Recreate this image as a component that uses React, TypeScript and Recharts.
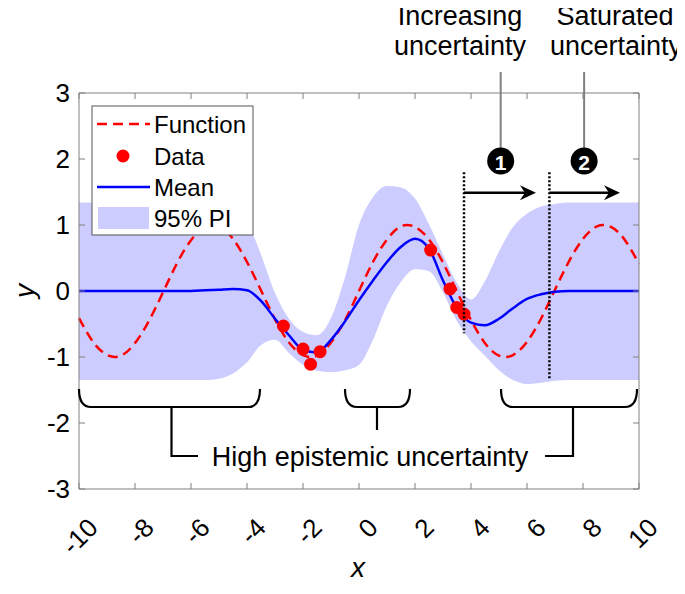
import { ComposedChart, Line, Area, Scatter, XAxis, YAxis } from 'recharts';

// sample grid along x
const xGrid = [
  -10, -9.5, -9, -8.5, -8, -7.5, -7, -6.5, -6, -5.5, -5, -4.5, -4, -3.5, -3, -2.5, -2, -1.5, -1, -0.5,
  0, 0.5, 1, 1.5, 2, 2.5, 3, 3.5, 4, 4.5, 5, 5.5, 6, 6.5, 7, 7.5, 8, 8.5, 9, 9.5, 10,
];

// true function (red dashed)
const functionY = [
  -0.41, -0.77, -0.97, -0.98, -0.79, -0.45, -0.02, 0.42, 0.77, 0.97, 0.98, 0.79, 0.44, 0.01, -0.43, -0.78, -0.97, -0.98, -0.78, -0.44,
  0, 0.44, 0.78, 0.98, 0.97, 0.78, 0.43, -0.01, -0.44, -0.79, -0.98, -0.97, -0.77, -0.42, 0.02, 0.45, 0.79, 0.98, 0.97, 0.77, 0.41,
];

// posterior mean (blue)
const meanY = [
  0, 0, 0, 0, 0, 0, 0, 0, 0, 0.01, 0.02, 0.03, 0.01, -0.15, -0.42, -0.67, -0.89, -0.93, -0.74, -0.46,
  -0.14, 0.16, 0.44, 0.67, 0.79, 0.64, 0.16, -0.26, -0.48, -0.52, -0.42, -0.26, -0.12, -0.05, -0.01, 0, 0, 0, 0, 0, 0,
];

// 95% prediction interval
const piUpper = [
  1.34, 1.34, 1.34, 1.34, 1.34, 1.34, 1.34, 1.34, 1.34, 1.34, 1.32, 1.24, 1.05, 0.55, -0.03, -0.42, -0.62, -0.67, -0.41, 0.21,
  1.0, 1.42, 1.59, 1.57, 1.4, 1.01, 0.55, 0.12, -0.13, 0.15, 0.6, 0.97, 1.17, 1.28, 1.32, 1.34, 1.34, 1.34, 1.34, 1.34, 1.34,
];
const piLower = [
  -1.35, -1.35, -1.35, -1.35, -1.35, -1.35, -1.35, -1.35, -1.35, -1.35, -1.33, -1.25, -1.08, -0.82, -0.74, -0.94, -1.12, -1.21, -1.23, -1.2,
  -1.12, -0.74, -0.22, 0.14, 0.33, 0.3, -0.02, -0.46, -0.76, -0.98, -1.2, -1.35, -1.41, -1.39, -1.36, -1.35, -1.35, -1.35, -1.35, -1.35, -1.35,
];

// observed points
const dataX = [-2.7, -2.0, -1.73, -1.39, 2.56, 3.25, 3.49, 3.75];
const dataY = [-0.53, -0.88, -1.11, -0.92, 0.62, 0.03, -0.25, -0.35];

const xTicks = [-10, -8, -6, -4, -2, 0, 2, 4, 6, 8, 10];
const yTicks = [-3, -2, -1, 0, 1, 2, 3];

const rows = xGrid.map((x, i) => ({ x, f: functionY[i], mean: meanY[i], lo: piLower[i], hi: piUpper[i] }));
const points = dataX.map((x, i) => ({ x, y: dataY[i] }));

const W = 669;
const H = 578;
const PLOT = { left: 71, top: 85, width: 560, height: 396 };
const px = (x: number) => PLOT.left + ((x + 10) / 20) * PLOT.width;
const py = (y: number) => PLOT.top + ((3 - y) / 6) * PLOT.height;

const AXIS = '#808080';
const BAND = '#ccccff';

function XTick({ x, y, payload }: any) {
  return (
    <text
      transform={`translate(${x + 14},${y + 34}) rotate(-45)`}
      textAnchor="end"
      dominantBaseline="central"
      fontSize={26}
      fill="#000"
    >
      {payload.value}
    </text>
  );
}

function Arrow({ x1, x2, y }: { x1: number; x2: number; y: number }) {
  const a = px(x1), b = px(x2), c = py(y);
  return (
    <g>
      <line x1={a} y1={c} x2={b - 8} y2={c} stroke="#000" strokeWidth={2.5} />
      <path d={`M${b},${c} L${b - 16},${c - 7.5} L${b - 11},${c} L${b - 16},${c + 7.5} Z`} fill="#000" />
    </g>
  );
}

function Bracket({ x1, x2, stem, stemTo, turnTo }: { x1: number; x2: number; stem: number; stemTo: number; turnTo?: number }) {
  const top = 381, bot = 399;
  const d = `M${x1},${top} Q${x1},${bot} ${x1 + 12},${bot} L${x2 - 12},${bot} Q${x2},${bot} ${x2},${top}`;
  const s = turnTo !== undefined ? `M${stem},${bot} L${stem},${stemTo} L${turnTo},${stemTo}` : `M${stem},${bot} L${stem},${stemTo}`;
  return (
    <g fill="none" stroke="#000" strokeWidth={2.2}>
      <path d={d} />
      <path d={s} />
    </g>
  );
}

function Overlay() {
  return (
    <svg width={W} height={H} style={{ position: 'absolute', left: 0, top: 0, pointerEvents: 'none', overflow: 'visible' }}>
      {/* box edges (top / right) with inward ticks */}
      <g stroke={AXIS} strokeWidth={1}>
        <line x1={PLOT.left} y1={PLOT.top} x2={PLOT.left + PLOT.width} y2={PLOT.top} />
        <line x1={PLOT.left + PLOT.width} y1={PLOT.top} x2={PLOT.left + PLOT.width} y2={PLOT.top + PLOT.height} />
        {xTicks.map((t) => (
          <line key={`tx${t}`} x1={px(t)} y1={PLOT.top} x2={px(t)} y2={PLOT.top + 6} />
        ))}
        {yTicks.map((t) => (
          <line key={`ty${t}`} x1={PLOT.left + PLOT.width} y1={py(t)} x2={PLOT.left + PLOT.width - 6} y2={py(t)} />
        ))}
      </g>

      {/* legend */}
      <rect x={84} y={98} width={161} height={129} fill="#fff" stroke="#555" strokeWidth={1} />
      <line x1={89} y1={116} x2={142} y2={116} stroke="#ff0000" strokeWidth={2.5} strokeDasharray="10 6" />
      <circle cx={115} cy={148} r={6.5} fill="#ff0000" />
      <line x1={89} y1={179} x2={142} y2={179} stroke="#0000ff" strokeWidth={2.5} />
      <rect x={90} y={199} width={51} height={22} fill={BAND} />
      <g fontSize={24} fill="#000" dominantBaseline="central">
        <text x={146} y={116}>Function</text>
        <text x={146} y={148}>Data</text>
        <text x={146} y={179}>Mean</text>
        <text x={146} y={210}>95% PI</text>
      </g>

      {/* uncertainty regions */}
      <line x1={px(3.75)} y1={py(1.8)} x2={px(3.75)} y2={py(-0.64)} stroke="#000" strokeWidth={2.5} strokeDasharray="2 2" />
      <line x1={px(6.8)} y1={py(1.8)} x2={px(6.8)} y2={py(-1.35)} stroke="#000" strokeWidth={2.5} strokeDasharray="2 2" />
      <Arrow x1={3.75} x2={6.32} y={1.49} />
      <Arrow x1={6.8} x2={9.32} y={1.49} />
      <line x1={px(5.06)} y1={64} x2={px(5.06)} y2={140} stroke="#808080" strokeWidth={2} />
      <line x1={px(8.04)} y1={64} x2={px(8.04)} y2={140} stroke="#808080" strokeWidth={2} />
      <circle cx={px(5.06)} cy={153} r={13.5} fill="#000" />
      <circle cx={px(8.04)} cy={153} r={13.5} fill="#000" />
      <g fontSize={21} fontWeight="bold" fill="#fff" textAnchor="middle" dominantBaseline="central">
        <text x={px(5.06)} y={154}>1</text>
        <text x={px(8.04)} y={154}>2</text>
      </g>
      <g fontSize={27} fill="#000" textAnchor="middle">
        <text x={452} y={17}>Increasing</text>
        <text x={452} y={47}>uncertainty</text>
        <text x={607} y={17}>Saturated</text>
        <text x={608} y={47}>uncertainty</text>
      </g>

      {/* epistemic brackets */}
      <Bracket x1={71} x2={252} stem={163.5} stemTo={448} turnTo={190} />
      <Bracket x1={337} x2={402} stem={369} stemTo={422} />
      <Bracket x1={493} x2={629} stem={565} stemTo={448} turnTo={537} />
      <text x={362} y={458} fontSize={27} fill="#000" textAnchor="middle">High epistemic uncertainty</text>

      {/* axis titles */}
      <text x={350} y={559} fontSize={28} fontStyle="italic" fill="#000" textAnchor="middle" dominantBaseline="central">x</text>
      <text transform="translate(16,283) rotate(-90)" fontSize={28} fontStyle="italic" fill="#000" textAnchor="middle" dominantBaseline="central">y</text>
    </svg>
  );
}

export default function App() {
  return (
    <div style={{ position: 'relative', width: W, height: H, fontFamily: '"Liberation Sans", Arial, sans-serif', background: '#fff' }}>
      <ComposedChart
        width={W}
        height={H}
        data={rows}
        margin={{ top: PLOT.top, right: W - PLOT.left - PLOT.width, bottom: H - PLOT.top - PLOT.height - 60, left: PLOT.left - 60 }}
      >
        <XAxis
          dataKey="x"
          type="number"
          domain={[-10, 10]}
          ticks={xTicks}
          height={60}
          tickSize={-6}
          tickMargin={6}
          axisLine={{ stroke: AXIS }}
          tickLine={{ stroke: AXIS }}
          tick={<XTick />}
          interval={0}
        />
        <YAxis
          type="number"
          domain={[-3, 3]}
          ticks={yTicks}
          width={60}
          tickSize={-6}
          tickMargin={15}
          axisLine={{ stroke: AXIS }}
          tickLine={{ stroke: AXIS }}
          tick={{ fill: '#000', fontSize: 26 }}
          interval={0}
        />
        <Area
          dataKey={(d: any) => [d.lo, d.hi]}
          type="monotone"
          fill={BAND}
          fillOpacity={1}
          stroke="none"
          isAnimationActive={false}
          activeDot={false}
        />
        <Line dataKey="f" type="natural" stroke="#ff0000" strokeWidth={2.5} strokeDasharray="10 6" dot={false} activeDot={false} isAnimationActive={false} />
        <Line dataKey="mean" type="monotone" stroke="#0000ff" strokeWidth={2.5} dot={false} activeDot={false} isAnimationActive={false} />
        <Scatter
          data={points}
          dataKey="y"
          fill="#ff0000"
          isAnimationActive={false}
          shape={(p: any) => <circle cx={p.cx} cy={p.cy} r={6.5} fill="#ff0000" />}
        />
      </ComposedChart>
      <Overlay />
    </div>
  );
}
